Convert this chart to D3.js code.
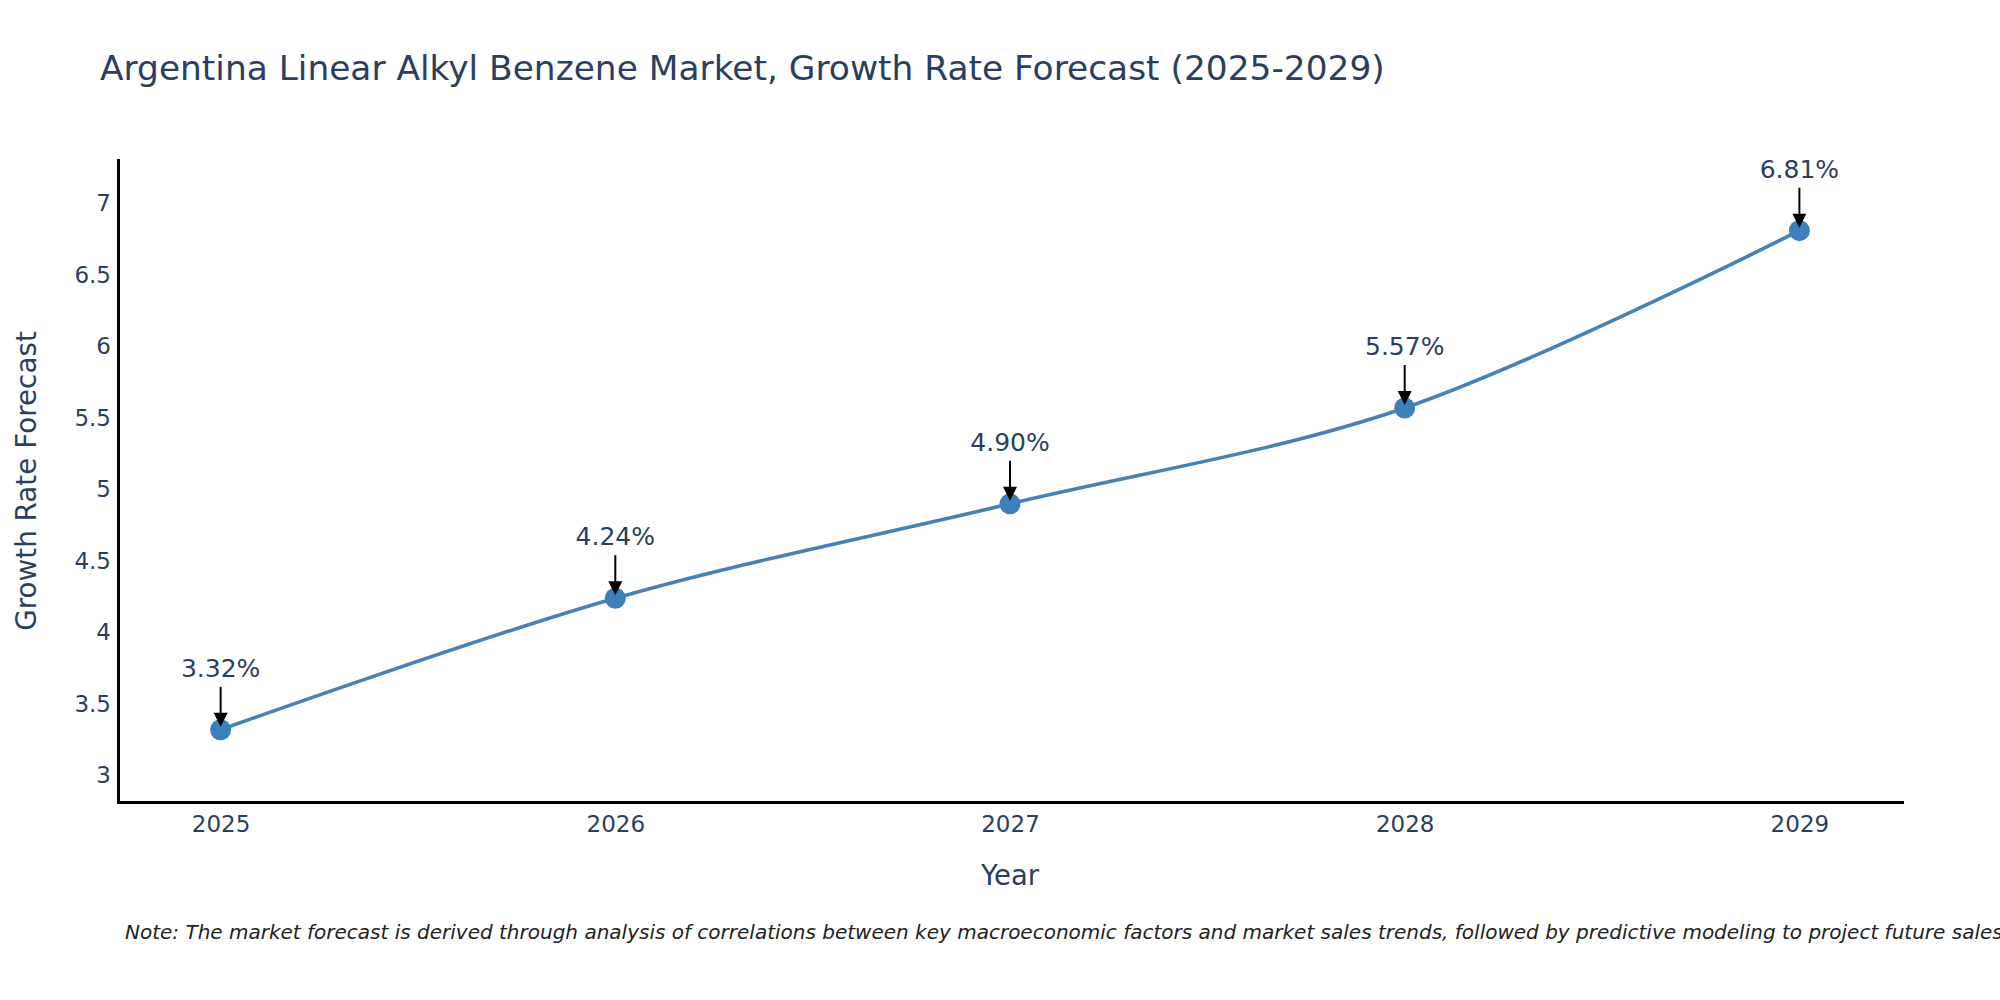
<!DOCTYPE html>
<html>
<head>
  <meta charset="utf-8">
  <title>Growth Rate Forecast</title>
  <script src="https://d3js.org/d3.v7.min.js" charset="utf-8"></script>
  <style type="text/css">
    body { margin: 0; background: #fff; }
    text { font-family: "DejaVu Sans", Verdana, sans-serif; }
  </style>
</head>
<body>
<script>

// chart data
var years = [2025, 2026, 2027, 2028, 2029];
var growth = [3.32, 4.24, 4.90, 5.57, 6.81];
var pointLabels = ["3.32%", "4.24%", "4.90%", "5.57%", "6.81%"];
var yTicks = [3, 3.5, 4, 4.5, 5, 5.5, 6, 6.5, 7];

var titleText = "Argentina Linear Alkyl Benzene Market, Growth Rate Forecast (2025-2029)";
var noteText = "Note: The market forecast is derived through analysis of correlations between key macroeconomic factors and market sales trends, followed by predictive modeling to project future sales.";

var width = 2000;
var height = 1000;
var textColor = "#2a3f5f";
var lineColor = "#4682b4";
var markerColor = "#3c7fba";

var svg = d3.select("body").append("svg")
  .attr("width", width)
  .attr("height", height);

// plot area edges (window.top is taken, so plot* names)
var plotLeft = 118, plotRight = 1902, plotTop = 160, plotBottom = 802;

var x = d3.scaleLinear().domain([2024.74, 2029.26]).range([plotLeft, plotRight]);
var y = d3.scaleLinear().domain([2.815, 7.304]).range([plotBottom, plotTop]);

// title
svg.append("text")
  .attr("x", 100)
  .attr("y", 80)
  .attr("font-size", 34.4)
  .attr("fill", textColor)
  .text(titleText);

// x axis
var xAxis = svg.append("g")
  .attr("transform", "translate(0," + plotBottom + ")")
  .call(d3.axisBottom(x)
    .tickValues(years)
    .tickFormat(d3.format("d"))
    .tickSize(0)
    .tickPadding(14));

// y axis
var yAxis = svg.append("g")
  .attr("transform", "translate(" + plotLeft + ",0)")
  .call(d3.axisLeft(y)
    .tickValues(yTicks)
    .tickFormat(function (d) { return String(d); })
    .tickSize(0)
    .tickPadding(7));

[xAxis, yAxis].forEach(function (g) {
  g.select(".domain")
    .attr("stroke", "#000")
    .attr("stroke-width", 3)
    .attr("stroke-linecap", "square");
  g.selectAll(".tick text")
    .attr("font-size", 23)
    .attr("font-family", "DejaVu Sans, sans-serif")
    .attr("fill", textColor);
});

// axis titles
svg.append("text")
  .attr("x", (plotLeft + plotRight) / 2)
  .attr("y", 885)
  .attr("text-anchor", "middle")
  .attr("font-size", 27.5)
  .attr("fill", textColor)
  .text("Year");

svg.append("text")
  .attr("transform", "translate(26," + ((plotTop + plotBottom) / 2) + ") rotate(-90)")
  .attr("text-anchor", "middle")
  .attr("dominant-baseline", "central")
  .attr("font-size", 27.8)
  .attr("fill", textColor)
  .text("Growth Rate Forecast");

// smoothed line through the points
var line = d3.line()
  .x(function (d, i) { return x(years[i]); })
  .y(function (d) { return y(d); })
  .curve(d3.curveCatmullRom.alpha(0.5));

svg.append("path")
  .datum(growth)
  .attr("d", line)
  .attr("fill", "none")
  .attr("stroke", lineColor)
  .attr("stroke-width", 3.6);

svg.selectAll("circle.pt")
  .data(growth)
  .enter()
  .append("circle")
  .attr("class", "pt")
  .attr("cx", function (d, i) { return x(years[i]); })
  .attr("cy", function (d) { return y(d); })
  .attr("r", 10.5)
  .attr("fill", markerColor);

// annotations: label with a down arrow onto each point
var ann = svg.selectAll("g.ann")
  .data(growth)
  .enter()
  .append("g")
  .attr("class", "ann")
  .attr("transform", function (d, i) {
    return "translate(" + x(years[i]) + "," + y(d) + ")";
  });

ann.append("line")
  .attr("x1", 0).attr("y1", -43)
  .attr("x2", 0).attr("y2", -14)
  .attr("stroke", "#000")
  .attr("stroke-width", 2);

ann.append("path")
  .attr("d", "M-7,-17 L7,-17 L0,-3 Z")
  .attr("fill", "#000");

ann.append("text")
  .attr("x", 0)
  .attr("y", -53)
  .attr("text-anchor", "middle")
  .attr("font-size", 25)
  .attr("fill", textColor)
  .text(function (d, i) { return pointLabels[i]; });

// footnote, runs past the right edge like the original
svg.append("text")
  .attr("x", 125)
  .attr("y", 939)
  .attr("font-size", 20)
  .attr("font-style", "italic")
  .attr("fill", "#222")
  .text(noteText);

</script>
</body>
</html>
